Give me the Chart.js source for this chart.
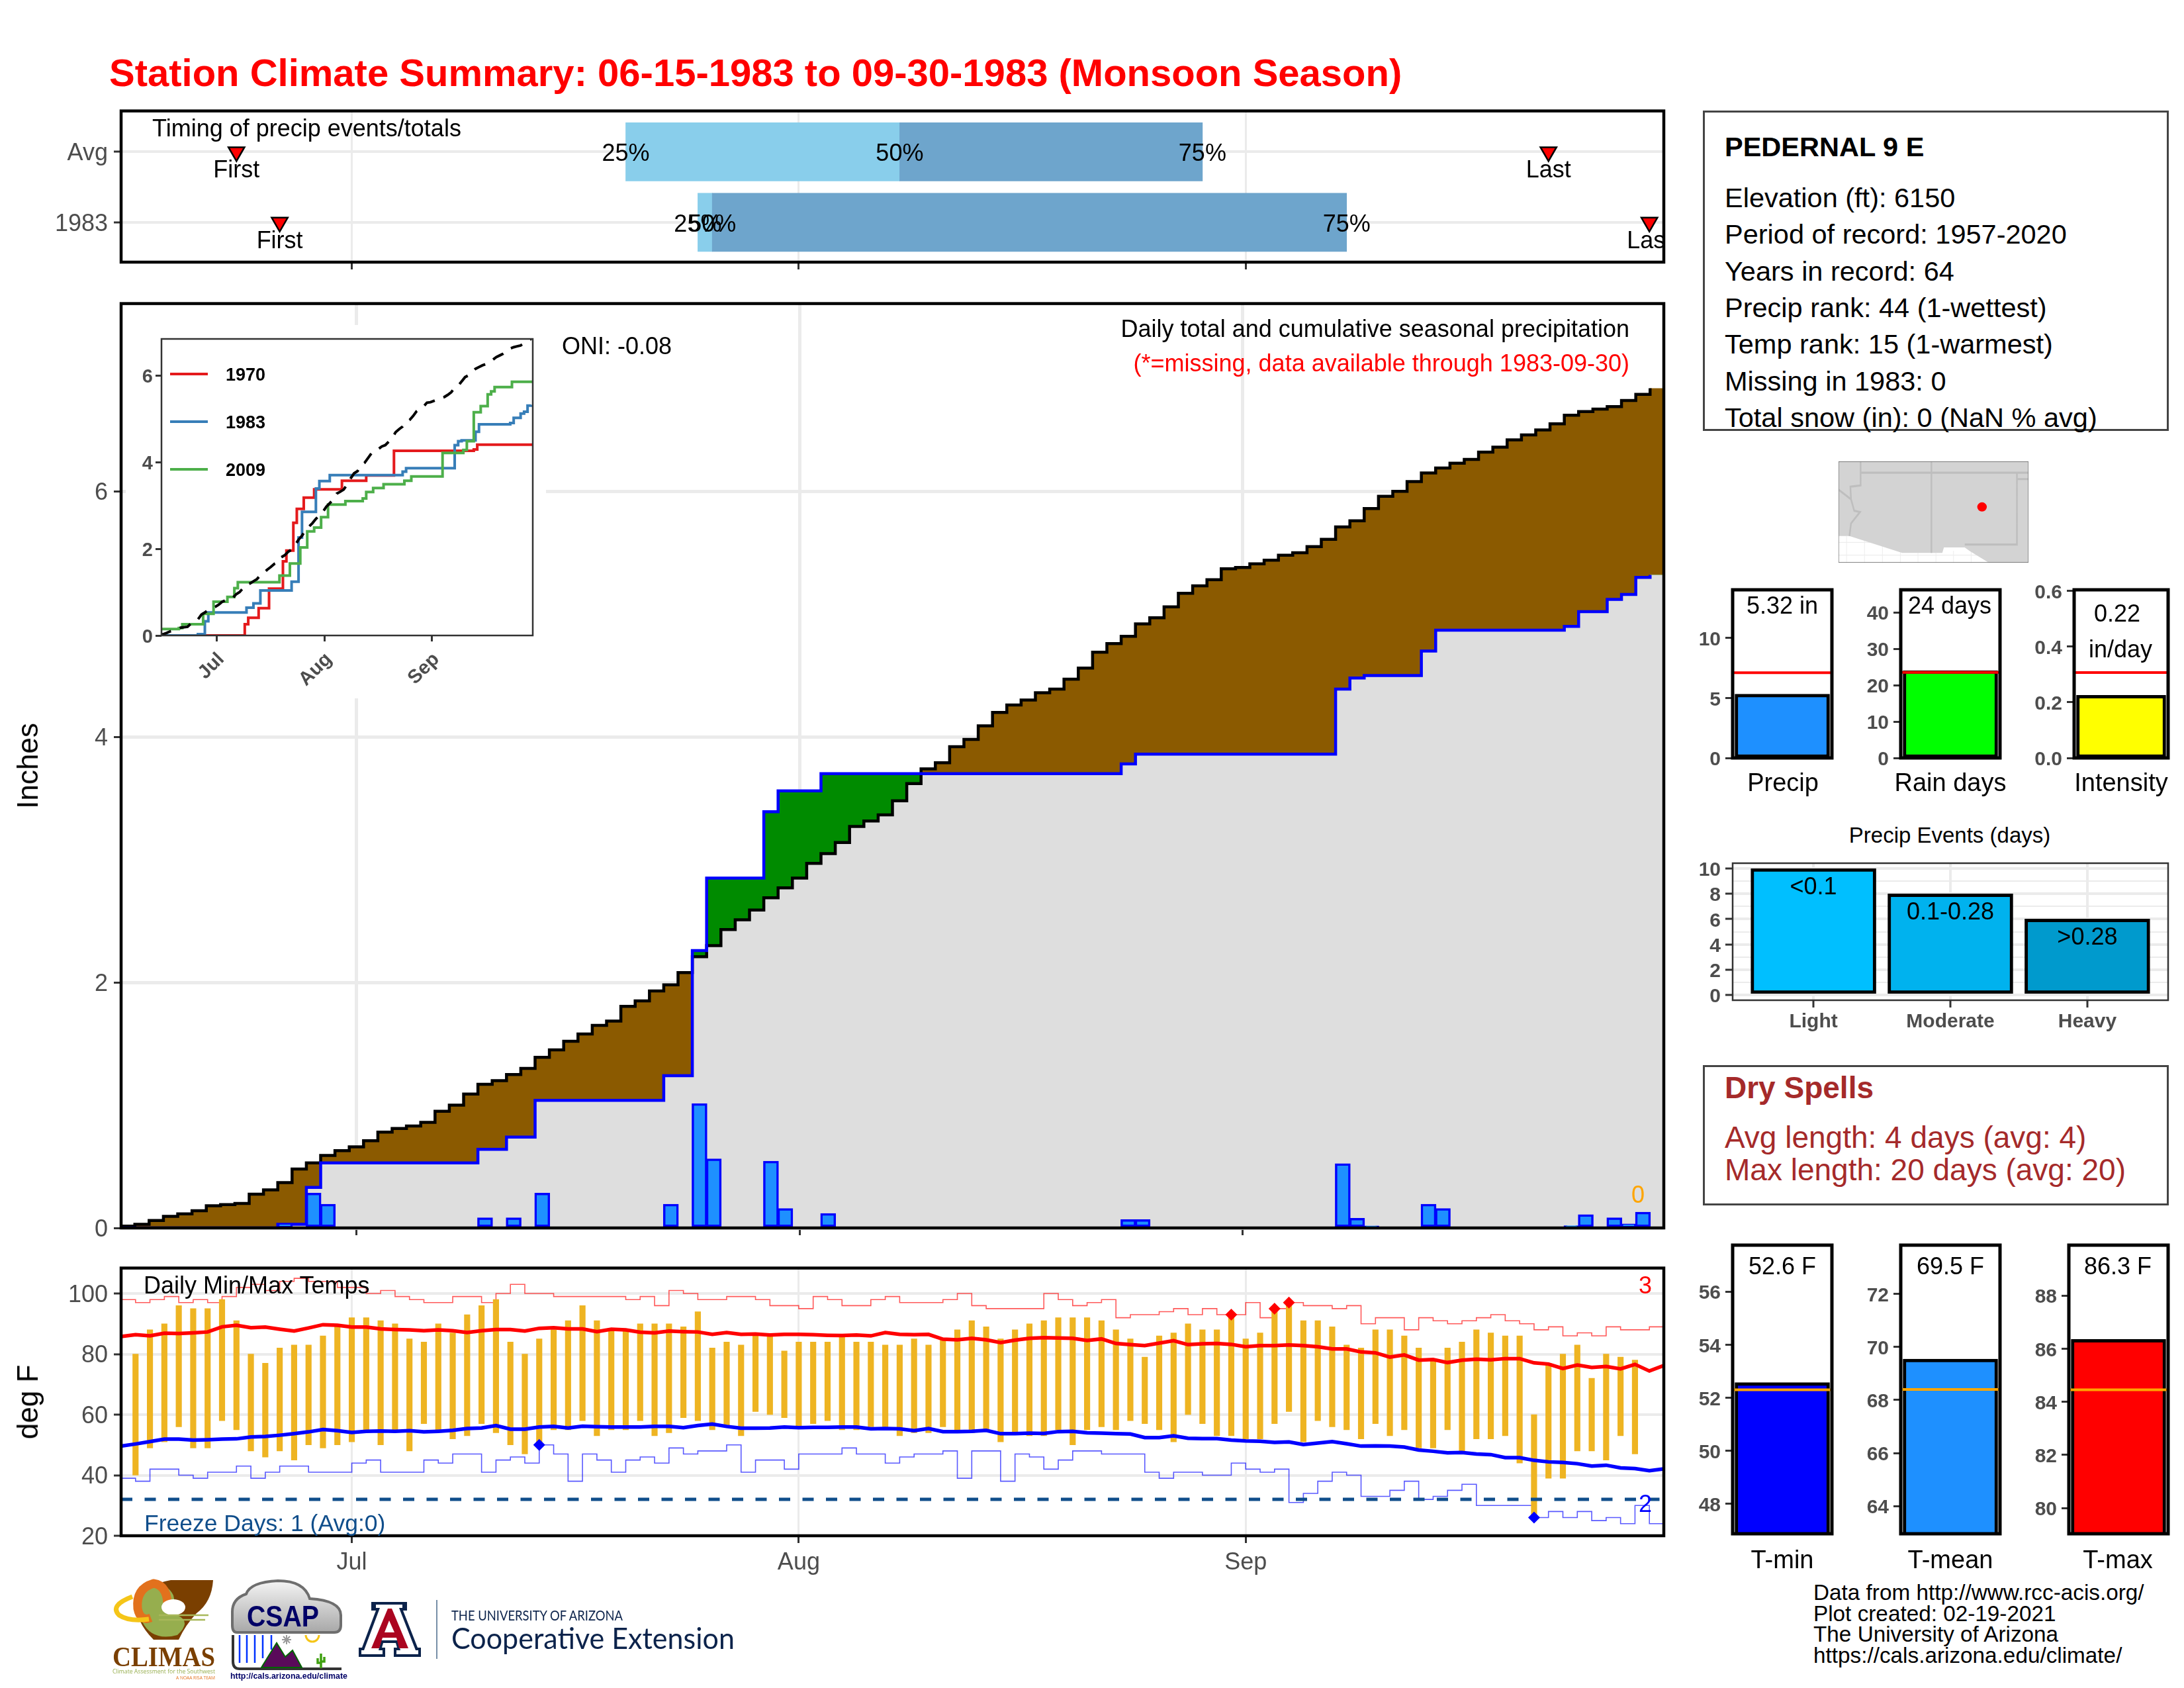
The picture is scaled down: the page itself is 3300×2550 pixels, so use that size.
<!DOCTYPE html>
<html>
<head>
<meta charset="utf-8">
<title>Station Climate Summary</title>
<script src="https://cdn.jsdelivr.net/npm/chart.js@4"></script>
<style>
  html, body { margin: 0; padding: 0; background: #fff; }
  #page { position: relative; width: 3300px; height: 2550px; overflow: hidden; font-family: 'Liberation Sans', sans-serif; }
  #page canvas { position: absolute; }
  .txt { position: absolute; white-space: nowrap; line-height: 1; }
  .box { position: absolute; box-sizing: border-box; background: #fff; }
  .clip { position: absolute; overflow: hidden; }
</style>
</head>
<body>
<div id="page"></div>
<script>
// Day numbers count from 06-15 = 0
const monthTicks = [16, 47, 78];
const monthLabels = ['Jul', 'Aug', 'Sep'];

// Timing panel
const timingRows = ['Avg', '1983'];
const timing25 = [35, 40];
const timing50 = [54, 41];
const timing75 = [75, 85];
const firstEvent = [8, 11];
const lastEvent = [99, 106];

// Daily precip (inches) on the days it rained
const rainDays = [11, 13, 14, 25, 27, 29, 38, 40, 41, 45, 46, 49, 70, 71, 85, 86, 87, 91, 92, 101, 102, 104, 105, 106];
const rainVals = [0.03, 0.28, 0.19, 0.08, 0.08, 0.28, 0.19, 1.01, 0.56, 0.54, 0.155, 0.115, 0.065, 0.065, 0.52, 0.075, 0.01, 0.19, 0.155, 0.015, 0.105, 0.08, 0.03, 0.125];

// Cumulative seasonal precip, one value per day
const cumAvg = [0.015, 0.03, 0.06, 0.095, 0.115, 0.14, 0.18, 0.19, 0.20, 0.275,
  0.31, 0.37, 0.48, 0.53, 0.59, 0.63, 0.66, 0.71, 0.78, 0.81,
  0.83, 0.86, 0.95, 1.00, 1.09, 1.17, 1.20, 1.25, 1.30, 1.39,
  1.45, 1.52, 1.58, 1.65, 1.685, 1.805, 1.85, 1.93, 1.98, 2.08,
  2.21, 2.30, 2.43, 2.51, 2.59, 2.69, 2.77, 2.85, 2.97, 3.05,
  3.14, 3.27, 3.315, 3.365, 3.48, 3.62, 3.74, 3.79, 3.92, 3.98,
  4.09, 4.20, 4.26, 4.30, 4.36, 4.39, 4.47, 4.56, 4.69, 4.76,
  4.82, 4.92, 4.97, 5.06, 5.17, 5.23, 5.28, 5.37, 5.38, 5.41,
  5.44, 5.48, 5.50, 5.55, 5.61, 5.71, 5.76, 5.86, 5.96, 6.00,
  6.08, 6.15, 6.19, 6.23, 6.26, 6.32, 6.36, 6.42, 6.46, 6.50,
  6.55, 6.62, 6.65, 6.67, 6.69, 6.74, 6.79, 6.84];
const cum1983 = [0, 0, 0, 0, 0, 0, 0, 0, 0, 0, 0, 0.03, 0.03, 0.33,
  0.53, 0.53, 0.53, 0.53, 0.53, 0.53, 0.53, 0.53, 0.53, 0.53, 0.53,
  0.64, 0.64, 0.74, 0.74,
  1.04, 1.04, 1.04, 1.04, 1.04, 1.04, 1.04, 1.04, 1.04,
  1.24, 1.24, 2.26, 2.85, 2.85, 2.85, 2.85, 3.39, 3.56, 3.56, 3.56,
  3.70, 3.70, 3.70, 3.70, 3.70, 3.70, 3.70, 3.70, 3.70, 3.70, 3.70,
  3.70, 3.70, 3.70, 3.70, 3.70, 3.70, 3.70, 3.70, 3.70, 3.70,
  3.78, 3.86, 3.86, 3.86, 3.86, 3.86, 3.86, 3.86, 3.86, 3.86, 3.86, 3.86, 3.86, 3.86, 3.86,
  4.39, 4.48, 4.50, 4.50, 4.50, 4.50, 4.70,
  4.87, 4.87, 4.87, 4.87, 4.87, 4.87, 4.87, 4.87, 4.87,
  4.90, 5.02, 5.02, 5.12, 5.16, 5.30, 5.32];

// Comparison years for the inset: day of each step and the level from that day on
const y1970Days = [0, 24, 25, 28, 31, 35, 36, 38, 39, 41, 44, 52, 59, 67, 90, 91, 107];
const y1970Vals = [0, 0.26, 0.41, 0.63, 1.08, 1.71, 1.96, 2.60, 2.92, 3.18, 3.37, 3.57, 3.69, 4.26, 4.29, 4.40, 4.40];
const y2009Days = [0, 5, 6, 12, 15, 19, 21, 22, 34, 37, 40, 42, 44, 46, 48, 53, 58, 59, 61, 64, 70, 72, 81, 87, 88, 90, 92, 94, 95, 96, 101, 107];
const y2009Vals = [0.15, 0.17, 0.26, 0.50, 0.78, 0.89, 1.09, 1.23, 1.38, 1.66, 2.03, 2.40, 2.49, 2.73, 3.02, 3.10, 3.16, 3.31, 3.40, 3.49, 3.57, 3.67, 4.21, 4.28, 4.48, 5.15, 5.29, 5.56, 5.63, 5.73, 5.85, 5.85];

// Daily temps (deg F), no reading on the first and last days
const tempMax = [null, 80, 88, 90, 96, 95, 95, 98, 91, 80, 77, 82, 83, 83, 86, 89, 92, 92, 91, 90, 85,
  84, 90, 87, 93, 96, 98, 84, 80, 85, 88, 91, 96, 91, 88, 88, 90, 90, 90, 89, 94,
  82, 84, 83, 86, 86, 81, 84, 84, 84, 86, 84, 84, 83, 83, 85, 83, 85, 88, 91, 89,
  85, 88, 90, 91, 92, 92, 92, 91, 88, 85, 79, 86, 87, 90, 88, 88, 93, 85, 87, 95,
  97, 91, 91, 89, 83, 82, 88, 88, 86, 82, 78, 82, 84, 88, 87, 86, 86, 60, 77, 80,
  83, 72, 80, 79, 78, null, null];
const tempMin = [null, 40, 49, 51, 56, 49, 49, 58, 55, 48, 46, 48, 45, 50, 49, 50, 51, 55, 50, 55, 48,
  57, 55, 52, 53, 57, 54, 50, 47, 50, 55, 55, 58, 53, 55, 55, 58, 53, 54, 59, 58,
  55, 56, 53, 61, 60, 59, 56, 57, 58, 55, 55, 56, 56, 53, 54, 54, 56, 55, 54, 55,
  51, 54, 53, 53, 55, 50, 55, 56, 55, 58, 57, 55, 51, 60, 57, 53, 53, 52, 52, 57,
  61, 51, 58, 56, 55, 52, 57, 53, 55, 49, 49, 55, 48, 52, 52, 53, 44, 26, 39, 39,
  48, 48, 45, 53, 47, null, null];
const normalHigh = [85.8, 86.4, 86.0, 86.9, 86.8, 87.0, 87.3, 89.0, 89.5, 88.7, 88.9, 88.2, 87.6, 88.6, 89.7, 89.5, 88.9, 88.9, 88.3, 88.1,
  88.0, 87.7, 88.0, 87.7, 87.1, 87.7, 88.1, 88.1, 87.6, 88.5, 88.7, 88.3, 88.3, 87.4, 88.2, 88.0, 87.2, 87.0, 87.6, 87.4,
  87.3, 86.5, 87.1, 86.5, 86.6, 86.3, 86.5, 86.5, 86.4, 86.2, 86.1, 86.3, 86.0, 87.1, 86.5, 86.4, 86.5, 84.9, 84.7, 85.2,
  84.7, 83.8, 84.6, 85.2, 85.4, 85.3, 85.2, 84.5, 85.0, 83.5, 83.1, 82.8, 83.6, 84.4, 83.1, 83.4, 83.5, 83.2, 82.4, 82.8,
  82.8, 83.0, 82.8, 82.4, 81.7, 81.7, 80.7, 80.4, 79.0, 79.7, 78.0, 78.2, 77.2, 78.0, 78.3, 78.1, 78.5, 78.5, 77.1, 76.7,
  75.2, 76.4, 75.6, 75.9, 75.1, 76.6, 74.4, 76.2];
const normalLow = [49.6, 50.3, 51.1, 51.9, 51.9, 51.6, 51.7, 51.9, 52.0, 52.6, 52.8, 53.2, 53.7, 54.3, 55.1, 54.7, 54.1, 54.5, 54.6, 54.5,
  54.7, 54.3, 54.5, 54.8, 55.4, 55.6, 56.4, 55.2, 55.2, 55.9, 56.1, 55.6, 56.2, 56.0, 55.9, 55.9, 55.9, 56.1, 56.1, 55.7,
  56.4, 56.9, 56.1, 55.5, 55.5, 55.6, 55.9, 55.7, 55.8, 55.8, 55.9, 55.9, 55.3, 55.4, 55.3, 54.7, 55.4, 54.4, 54.4, 54.5,
  54.8, 53.7, 53.7, 53.9, 53.8, 54.4, 54.5, 54.0, 53.9, 53.7, 53.6, 52.4, 52.4, 53.0, 52.2, 52.1, 52.1, 51.6, 51.3, 51.2,
  50.8, 51.0, 50.1, 50.6, 51.1, 50.4, 49.6, 49.7, 49.6, 49.3, 48.3, 47.9, 47.4, 47.5, 47.0, 46.8, 45.8, 45.8, 44.9, 44.4,
  44.2, 43.8, 43.0, 43.3, 42.4, 42.2, 41.5, 42.1];
const recordHigh = [98, 97, 98, 99, 97, 98, 97, 99, 102, 103, 101, 104, 105, 104, 104, 102, 102, 100, 101, 99,
  98, 97, 97, 99, 99, 97, 100, 103, 100, 100, 99, 99, 99, 99, 99, 98, 99, 96, 101, 100,
  98, 98, 99, 99, 98, 96, 96, 95, 99, 98, 96, 96, 98, 99, 97, 97, 97, 98, 100, 96,
  95, 95, 95, 95, 100, 98, 96, 97, 98, 92, 93, 93, 94, 95, 93, 95, 93, 93, 97, 92,
  95, 97, 96, 96, 95, 96, 90, 92, 92, 88, 92, 91, 90, 91, 92, 93, 91, 90, 88, 89,
  86, 87, 86, 89, 88, 88, 89, 89];
const recordLow = [39, 38, 42, 42, 40, 39, 41, 41, 43, 39, 41, 43, 43, 41, 41, 41, 44, 45, 41, 41,
  41, 45, 44, 47, 47, 41, 45, 46, 44, 50, 47, 38, 47, 45, 41, 45, 46, 44, 49, 47,
  48, 48, 50, 41, 45, 45, 42, 47, 47, 47, 49, 47, 47, 44, 46, 47, 47, 48, 39, 48,
  48, 38, 47, 46, 42, 45, 48, 48, 47, 47, 47, 41, 39, 41, 41, 40, 40, 44, 42, 41,
  42, 31, 34, 38, 41, 40, 33, 33, 35, 38, 32, 33, 35, 37, 30, 30, 30, 30, 26, 28,
  26, 28, 25, 26, 24, 30, 24, 24];
const newHighDays = [77, 80, 81];
const newHighVals = [93, 95, 97];
const newLowDays = [29, 98];
const newLowVals = [50, 26];
const freezeLine = 32;

// Precip events
const eventNames = ['Light', 'Moderate', 'Heavy'];
const eventCounts = [10, 8, 6];
const eventBins = ['<0.1', '0.1-0.28', '>0.28'];

const page = document.getElementById('page');
const FONT = "'Liberation Sans', sans-serif";
const GREY = '#4D4D4D';
const GRID = '#EBEBEB';

Chart.defaults.font.family = FONT;
Chart.defaults.animation = false;
Chart.defaults.responsive = false;
Chart.defaults.plugins.legend.display = false;
Chart.defaults.plugins.tooltip.enabled = false;
Chart.defaults.elements.point.radius = 0;
Chart.defaults.elements.line.tension = 0;

// Plain text, x/y is the anchor and y the vertical middle
function txt(str, x, y, o = {}) {
    const el = document.createElement('div');
    el.className = 'txt';
    el.textContent = str;
    el.style.left = x + 'px';
    el.style.top = y + 'px';
    el.style.fontSize = (o.size || 36) + 'px';
    el.style.color = o.color || '#000';
    if (o.bold) el.style.fontWeight = 'bold';
    const ax = o.align === 'left' ? '0' : o.align === 'right' ? '-100%' : '-50%';
    el.style.transform = `translate(${ax}, -50%)` + (o.rotate ? ` rotate(${o.rotate}deg)` : '');
    (o.parent || page).appendChild(el);
    return el;
}

function box(x0, y0, x1, y1, border) {
    const el = document.createElement('div');
    el.className = 'box';
    el.style.cssText = `left:${x0}px;top:${y0}px;width:${x1 - x0}px;height:${y1 - y0}px;border:${border || 'none'}`;
    page.appendChild(el);
    return el;
}

// Panel border on top of the marks, tick text nudged to sit level with the ticks
const framePlugin = {
    id: 'frame',
    beforeDraw(chart) {
        if (chart.$nudged) return;
        chart.$nudged = true;
        Object.values(chart.scales).forEach(s => {
            const shift = s.options.labelShift;
            if (shift) s.getLabelItems().forEach(item => { item.textOffset += shift; });
        });
    },
    afterDatasetsDraw(chart, args, opts) {
        const a = chart.chartArea;
        const c = chart.ctx;
        c.save();
        c.strokeStyle = opts.color || '#000';
        c.lineWidth = opts.width || 4.5;
        c.strokeRect(a.left, a.top, a.right - a.left, a.bottom - a.top);
        c.restore();
    }
};

// Linear axis with fixed ticks and fixed room for labels
function axis(o) {
    return {
        type: 'linear',
        offset: false,
        min: o.min,
        max: o.max,
        reverse: !!o.reverse,
        labelShift: o.shift === undefined ? 3 : o.shift,
        afterBuildTicks: a => { a.ticks = o.at.map(v => ({ value: v })); },
        afterFit: a => { if (a.isHorizontal()) a.height = o.room; else a.width = o.room; },
        border: { display: false },
        grid: {
            offset: false,
            drawOnChartArea: !!o.gridW,
            color: GRID,
            lineWidth: o.gridW || 1,
            tickColor: o.tickColor || '#333',
            tickWidth: o.tickW || 3,
            tickLength: o.tickLen || 11
        },
        ticks: {
            autoSkip: false,
            maxRotation: o.rot || 0,
            minRotation: o.rot || 0,
            padding: o.pad === undefined ? 9 : o.pad,
            color: GREY,
            font: { family: FONT, size: o.size || 36, weight: o.bold ? 'bold' : 'normal' },
            callback: (v, i) => (o.text ? o.text[i] : '')
        }
    };
}

// Canvas sized so the plot area lands exactly on the given rectangle
function panel(r, roomL, roomB, datasets, scales, frame) {
    const top = 30, right = 30;
    const cv = document.createElement('canvas');
    cv.width = r.x1 - r.x0 + roomL + right;
    cv.height = r.y1 - r.y0 + top + roomB;
    cv.style.left = (r.x0 - roomL) + 'px';
    cv.style.top = (r.y0 - top) + 'px';
    page.appendChild(cv);
    const noX = scales.x.display === false;
    return new Chart(cv, {
        type: 'bar',
        data: { datasets },
        options: {
            devicePixelRatio: 1,
            layout: { padding: { top, right, left: 0, bottom: noX ? roomB : 0 } },
            scales,
            plugins: { frame: frame || {} }
        },
        plugins: [framePlugin]
    });
}

function overlay(r) {
    const el = document.createElement('div');
    el.className = 'clip';
    el.style.cssText = `left:${r.x0}px;top:${r.y0}px;width:${r.x1 - r.x0}px;height:${r.y1 - r.y0}px`;
    page.appendChild(el);
    return el;
}

const halfDay = (vals) => vals.map((v, i) => ({ x: i - 0.5, y: v }));
const onDay = (vals) => vals.map((v, i) => ({ x: i, y: v }));
const pairs = (xs, ys) => xs.map((x, i) => ({ x, y: ys[i] }));
const lineDs = (data, color, width, extra) => Object.assign({ type: 'line', data, borderColor: color, borderWidth: width, fill: false }, extra);

// ---------- header ----------
txt('Station Climate Summary: 06-15-1983 to 09-30-1983 (Monsoon Season)', 165, 110, { size: 58, bold: true, color: '#FF0000', align: 'left' });

// ---------- timing panel ----------
const topRect = { x0: 183, y0: 167, x1: 2514, y1: 396 };
const timingChart = panel(topRect, 183, 40, [
    { type: 'scatter', data: firstEvent.map((d, i) => ({ x: d, y: i + 1 })).concat(lastEvent.map((d, i) => ({ x: d, y: i + 1 }))),
      pointStyle: 'triangle', rotation: 180, pointRadius: 14, backgroundColor: '#FF0000', borderColor: '#000', borderWidth: 2.5, order: 0 },
    { indexAxis: 'y', grouped: false, barThickness: 88, backgroundColor: '#89CEEB', order: 2,
      data: timingRows.map((n, i) => ({ y: i + 1, x: [timing25[i], timing50[i]] })) },
    { indexAxis: 'y', grouped: false, barThickness: 88, backgroundColor: '#6EA5CC', order: 1,
      data: timingRows.map((n, i) => ({ y: i + 1, x: [timing50[i], timing75[i]] })) }
], {
    x: axis({ min: 0, max: 107, at: monthTicks, room: 40, gridW: 3 }),
    y: axis({ min: 0.419, max: 2.565, reverse: true, at: [1, 2], text: timingRows, room: 183, gridW: 4 })
});
const topClip = overlay(topRect);
txt('Timing of precip events/totals', 230 - topRect.x0, 194 - topRect.y0, { align: 'left', parent: topClip });
timingRows.forEach((name, i) => {
    const yPx = timingChart.scales.y.getPixelForValue(i + 1) - 30;
    const xPx = d => timingChart.scales.x.getPixelForValue(d);
    const off = timingChart.canvas.offsetLeft - topRect.x0;
    [[timing25[i], '25%'], [timing50[i], '50%'], [timing75[i], '75%']].forEach(([d, s]) => {
        txt(s, xPx(d) + off, yPx + 2, { parent: topClip });
    });
    txt('First', xPx(firstEvent[i]) + off, yPx + 27, { parent: topClip });
    txt('Last', xPx(lastEvent[i]) + off, yPx + 27, { parent: topClip });
});

// ---------- cumulative precip panel ----------
const mainRect = { x0: 183, y0: 458, x1: 2514, y1: 1855 };
const topLine = cumAvg.map((v, i) => Math.min(v, cum1983[i]));
const lastDayEdge = 108;
const mainSets = [
    // fills run to the panel edge, strokes stop at the last day
    lineDs(halfDay(topLine).concat([{ x: lastDayEdge, y: topLine[107] }]), 'transparent', 0, { stepped: true, fill: 'origin', backgroundColor: '#DEDEDE', order: 9 }),
    lineDs(halfDay(cumAvg).concat([{ x: lastDayEdge, y: cumAvg[107] }]), 'transparent', 0, { stepped: true, fill: { target: 2, above: '#8B5A00', below: '#008B00' }, order: 8 }),
    lineDs(halfDay(cum1983).concat([{ x: lastDayEdge, y: cum1983[107] }]), 'transparent', 0, { stepped: true, order: 7 }),
    lineDs(halfDay(cumAvg), '#000', 4.5, { stepped: true, order: 3 }),
    lineDs(halfDay(cum1983), '#0000FF', 4.5, { stepped: true, order: 2 }),
    { data: pairs(rainDays, rainVals), backgroundColor: '#1E90FF', borderColor: '#0000FF', borderWidth: 3.5, borderSkipped: false, inflateAmount: 1, barThickness: 21.6, order: 1 }
];
panel(mainRect, 183, 40, mainSets, {
    x: axis({ min: -0.46, max: 107.46, at: monthTicks, room: 40, gridW: 5 }),
    y: axis({ min: 0, max: 7.53, at: [0, 2, 4, 6], text: ['0', '2', '4', '6'], room: 183, gridW: 5 })
});
txt('Inches', 42, 1157, { size: 44, rotate: -90 });
txt('ONI: -0.08', 849, 523, { align: 'left' });
txt('Daily total and cumulative seasonal precipitation', 2462, 497, { align: 'right' });
txt('(*=missing, data available through 1983-09-30)', 2462, 549, { align: 'right', color: '#FF0000' });
txt('0', 2475, 1805, { color: '#FFA500' });

// ---------- inset ----------
box(190, 491, 825, 1055);
const insetRect = { x0: 244, y0: 512, x1: 805, y1: 960 };
panel(insetRect, 60, 90, [
    lineDs(halfDay(cumAvg), '#000', 4, { borderDash: [18, 14], order: 0 }),
    lineDs(pairs(y2009Days, y2009Vals), '#4DAF4A', 4, { stepped: true, order: 1 }),
    lineDs(halfDay(cum1983), '#377EB8', 4, { stepped: true, order: 2 }),
    lineDs(pairs(y1970Days, y1970Vals), '#E41A1C', 4, { stepped: true, order: 3 })
], {
    x: axis({ min: 0, max: 107, at: monthTicks, text: monthLabels, room: 90, size: 29, bold: true, rot: 45, tickLen: 9, pad: 4, shift: 9 }),
    y: axis({ min: 0, max: 6.84, at: [0, 2, 4, 6], text: ['0', '2', '4', '6'], room: 60, size: 29, bold: true, tickLen: 9, pad: 4 })
}, { color: '#333', width: 2.5 });
[['1970', '#E41A1C', 565], ['1983', '#377EB8', 637], ['2009', '#4DAF4A', 709]].forEach(([label, col, y]) => {
    const swatch = box(257, y - 2, 314, y + 2);
    swatch.style.background = col;
    txt(label, 341, y + 1, { size: 27, bold: true, align: 'left' });
});

// ---------- daily temps ----------
const tempRect = { x0: 183, y0: 1915, x1: 2514, y1: 2320 };
const tempBars = tempMax.map((v, i) => ({ x: i, y: [tempMin[i], v] })).filter(p => p.y[1] !== null);
panel(tempRect, 183, 70, [
    lineDs([{ x: 0, y: freezeLine }, { x: 107, y: freezeLine }], '#104E8B', 5, { borderDash: [17, 18.5], order: 1 }),
    { type: 'scatter', data: pairs(newHighDays, newHighVals), pointStyle: 'rectRot', pointRadius: 9, backgroundColor: '#FF0000', borderWidth: 0, order: 0 },
    { type: 'scatter', data: pairs(newLowDays, newLowVals), pointStyle: 'rectRot', pointRadius: 9, backgroundColor: '#0000FF', borderWidth: 0, order: 0 },
    lineDs(onDay(normalHigh), '#FF0000', 5.5, { order: 2 }),
    lineDs(onDay(normalLow), '#0000FF', 5.5, { order: 2 }),
    lineDs(onDay(recordHigh), 'rgba(255,0,0,0.65)', 1.6, { stepped: true, order: 4 }),
    lineDs(onDay(recordLow), 'rgba(0,0,255,0.65)', 1.6, { stepped: true, order: 4 }),
    { data: tempBars, backgroundColor: '#EEB422', barThickness: 8.5, order: 3 }
], {
    x: axis({ min: 0, max: 107, at: monthTicks, text: monthLabels, room: 70, gridW: 3, pad: 8, shift: 0 }),
    y: axis({ min: 20, max: 108.4, at: [20, 40, 60, 80, 100], text: ['20', '40', '60', '80', '100'], room: 183, gridW: 4 })
});
txt('deg F', 42, 2118, { size: 44, rotate: -90 });
txt('Daily Min/Max Temps', 217, 1942, { align: 'left' });
txt('Freeze Days: 1 (Avg:0)', 218, 2302, { size: 35.5, align: 'left', color: '#104E8B' });
txt('3', 2486, 1942, { color: '#FF0000' });
txt('2', 2486, 2272, { color: '#0000FF' });

// ---------- station box ----------
box(2573, 167, 3277, 651, '3px solid #444');
const stationLines = ['Elevation (ft): 6150', 'Period of record: 1957-2020', 'Years in record: 64', 'Precip rank: 44 (1-wettest)', 'Temp rank: 15 (1-warmest)', 'Missing in 1983: 0', 'Total snow (in): 0 (NaN % avg)'];
txt('PEDERNAL 9 E', 2606, 222, { size: 41.5, bold: true, align: 'left' });
stationLines.forEach((s, i) => txt(s, 2606, 299 + i * 55.3, { size: 41.5, align: 'left' }));

// ---------- locator map, drawn by hand, not data ----------
function addSvg(x, y, w, h, viewBox, inner, aspect) {
    const wrap = document.createElement('div');
    wrap.style.cssText = `position:absolute;left:${x}px;top:${y}px;width:${w}px;height:${h}px`;
    wrap.innerHTML = `<svg xmlns="http://www.w3.org/2000/svg" width="${w}" height="${h}" viewBox="${viewBox}" preserveAspectRatio="${aspect || 'xMidYMid meet'}">${inner}</svg>`;
    page.appendChild(wrap);
}
addSvg(2778, 697, 287, 153, '491 58 593 240', `
  <rect x="491" y="58" width="593" height="240" fill="#fff"/>
  <path d="M491 250H700M491 280H960M516 235V298M572 240V298M628 255V298M684 265V298M739 275V298M795 275V298M850 270V298M905 270V298" stroke="#EDEDED" stroke-width="2" fill="none"/>
  <path d="M491 58H1084V298H960L900 270L885 262H820L815 275H690L525 235L491 235Z" fill="#D3D3D3"/>
  <path d="M560 58V115L528 118L530 148L540 175L558 178L530 205L525 235M491 125L530 148M560 85H1084M781 58V275M1048 85V255H885M1048 100H1084" stroke="#BEBEBE" stroke-width="5" fill="none"/>
  <ellipse cx="939" cy="166" rx="15" ry="11" fill="#FF0000"/>
  <rect x="491" y="58" width="593" height="240" fill="none" stroke="#666" stroke-width="2.5"/>`, 'none');

// ---------- small summary bars ----------
function miniBar(r, o) {
    return panel(r, 90, 30, [
        lineDs([{ x: 0, y: o.ref }, { x: 2, y: o.ref }], o.refColor, o.refW || 4, { order: 0 }),
        { data: [{ x: 1, y: o.value }], backgroundColor: o.color, borderColor: '#000', borderWidth: 5, borderSkipped: false, barThickness: r.x1 - r.x0 - 7, order: 1 }
    ], {
        x: { type: 'linear', offset: false, display: false, min: 0.4, max: 1.6 },
        y: axis({ min: o.min, max: o.max, at: o.at, text: o.at.map(o.fmt || String), room: 90, size: 30, bold: true, pad: 7 })
    }, { width: 5 });
}

miniBar({ x0: 2618, y0: 891, x1: 2768, y1: 1145 }, { min: 0, max: 14.02, at: [0, 5, 10], value: 5.32, ref: 7.1, color: '#1E90FF', refColor: '#FF0000' });
miniBar({ x0: 2872, y0: 891, x1: 3022, y1: 1145 }, { min: 0, max: 46.2, at: [0, 10, 20, 30, 40], value: 24, ref: 23.5, color: '#00FF00', refColor: '#FF0000' });
miniBar({ x0: 3134, y0: 891, x1: 3276, y1: 1145 }, { min: 0, max: 0.603, at: [0, 0.2, 0.4, 0.6], value: 0.225, ref: 0.306, color: '#FFFF00', refColor: '#FF0000', fmt: v => v.toFixed(1) });
txt('5.32 in', 2693, 915);
txt('24 days', 2946, 915);
txt('0.22', 3199, 927);
txt('in/day', 3204, 981);
txt('Precip', 2694, 1182, { size: 38 });
txt('Rain days', 2947, 1182, { size: 38 });
txt('Intensity', 3205, 1182, { size: 38 });

// ---------- precip events ----------
txt('Precip Events (days)', 2946, 1261, { size: 33 });
const eventRect = { x0: 2618, y0: 1304, x1: 3276, y1: 1511 };
const eventTicks = [0, 1, 2, 3, 4, 5, 6, 7, 8, 9, 10];
const eventY = axis({ min: -0.42, max: 10.42, at: eventTicks, room: 90, size: 30, bold: true, gridW: 4, pad: 7 });
eventY.ticks.callback = v => (v % 2 === 0 ? String(v) : '');
eventY.grid.lineWidth = c => (c.tick.value % 2 === 0 ? 4 : 2);
eventY.grid.tickColor = c => (c.tick.value % 2 === 0 ? '#333' : 'transparent');
const eventChart = panel(eventRect, 90, 60, [
    { data: eventCounts.map((v, i) => ({ x: i + 1, y: v })), backgroundColor: ['#00BFFF', '#00B2EE', '#009ACD'], borderColor: '#000', borderWidth: 5, borderSkipped: false, barThickness: 189 }
], {
    x: axis({ min: 0.41, max: 3.59, at: [1, 2, 3], text: eventNames, room: 60, size: 30, bold: true, gridW: 4, pad: 4, shift: 0 }),
    y: eventY
}, { color: '#333', width: 2.5 });
eventBins.forEach((s, i) => {
    const x = eventChart.scales.x.getPixelForValue(i + 1) + eventChart.canvas.offsetLeft;
    const y = eventChart.scales.y.getPixelForValue(eventCounts[i]) + eventChart.canvas.offsetTop;
    txt(s, x, y + 27);
});

// ---------- dry spells ----------
box(2573, 1609, 3277, 1821, '3px solid #444');
txt('Dry Spells', 2606, 1643, { size: 46, bold: true, color: '#A52A2A', align: 'left' });
txt('Avg length: 4 days (avg: 4)', 2606, 1718, { size: 46, color: '#A52A2A', align: 'left' });
txt('Max length: 20 days (avg: 20)', 2606, 1767, { size: 46, color: '#A52A2A', align: 'left' });

// ---------- temperature summary bars ----------
miniBar({ x0: 2618, y0: 1881, x1: 2768, y1: 2317 }, { min: 46.87, max: 57.75, at: [48, 50, 52, 54, 56], value: 52.57, ref: 52.3, color: '#0000FF', refColor: '#FFA500' });
miniBar({ x0: 2872, y0: 1881, x1: 3022, y1: 2317 }, { min: 62.95, max: 73.85, at: [64, 66, 68, 70, 72], value: 69.55, ref: 68.4, color: '#1E90FF', refColor: '#FFA500' });
miniBar({ x0: 3126, y0: 1881, x1: 3276, y1: 2317 }, { min: 79.03, max: 89.9, at: [80, 82, 84, 86, 88], value: 86.35, ref: 84.45, color: '#FF0000', refColor: '#FFA500' });
txt('52.6 F', 2693, 1913);
txt('69.5 F', 2947, 1913);
txt('86.3 F', 3200, 1913);
txt('T-min', 2693, 2356, { size: 38 });
txt('T-mean', 2947, 2356, { size: 38 });
txt('T-max', 3200, 2356, { size: 38 });

['Data from http://www.rcc-acis.org/', 'Plot created: 02-19-2021', 'The University of Arizona', 'https://cals.arizona.edu/climate/'].forEach((s, i) => {
    txt(s, 2740, 2406 + i * 31.5, { size: 33.3, align: 'left' });
});

// ---------- logos, hand drawn ----------
addSvg(150, 2380, 1000, 170, '150 2380 1000 170', `
  <defs><linearGradient id="cloud" x1="0" y1="0" x2="0" y2="1"><stop offset="0" stop-color="#F4F4F4"/><stop offset="1" stop-color="#A8A8A8"/></linearGradient></defs>
  <path d="M258 2387H322Q320 2420 297 2437Q280 2455 270 2477H232Q205 2450 205 2420Q215 2395 258 2387Z" fill="#7A3F00"/>
  <path d="M214 2395Q250 2385 262 2410L268 2440Q290 2450 268 2470Q230 2480 215 2450Q195 2420 214 2395Z" fill="#96AE4E"/>
  <path d="M253 2432Q255 2395 232 2392Q205 2400 208 2430Q212 2450 228 2444" fill="none" stroke="#E2711D" stroke-width="13"/>
  <ellipse cx="262" cy="2428" rx="18" ry="12" fill="#fff"/>
  <path d="M200 2412Q165 2425 180 2440Q195 2450 225 2446" fill="none" stroke="#F5C518" stroke-width="7"/>
  <path d="M240 2440H315M240 2447H310" stroke="#A8B85A" stroke-width="2.5"/>
  <text x="170" y="2517" font-family="'Liberation Serif', serif" font-weight="bold" font-size="42" fill="#7A3F00" textLength="155" lengthAdjust="spacingAndGlyphs">CLIMAS</text>
  <text x="170" y="2528" font-family="'Open Sans', sans-serif" font-size="9" fill="#96AE4E" textLength="155" lengthAdjust="spacingAndGlyphs">Climate Assessment for the Southwest</text>
  <text x="266" y="2537" font-family="'Open Sans', sans-serif" font-size="7" fill="#E2711D" textLength="59" lengthAdjust="spacingAndGlyphs">A NOAA RISA TEAM</text>
  <path d="M358 2466Q351 2466 351 2455V2435Q351 2415 372 2408Q378 2390 420 2388Q460 2388 468 2415Q515 2418 515 2440V2455Q515 2466 505 2466Z" fill="url(#cloud)" stroke="#6E6E6E" stroke-width="4"/>
  <text x="373" y="2457" font-family="'Liberation Sans', sans-serif" font-weight="bold" font-size="44" fill="#000066" textLength="109" lengthAdjust="spacingAndGlyphs">CSAP</text>
  <path d="M362 2470V2512M373 2470V2512M385 2470V2512M397 2470V2505M410 2470V2492" stroke="#0033FF" stroke-width="2.5"/>
  <path d="M352 2470V2510Q352 2521 362 2521H516" fill="none" stroke="#333" stroke-width="4"/>
  <path d="M395 2519L418 2482L431 2503L442 2493L456 2519Z" fill="#5A0A5A" stroke="#006400" stroke-width="2"/>
  <path d="M433 2470V2484M426 2477H440M428 2472L438 2482M438 2472L428 2482" stroke="#999" stroke-width="2"/>
  <path d="M462 2470A10 10 0 0 0 482 2470" fill="none" stroke="#F5C518" stroke-width="3"/>
  <path d="M485 2520V2498M485 2512H480V2505M485 2510H490V2503" fill="none" stroke="#3FA010" stroke-width="3.5"/>
  <text x="348" y="2536" font-family="'Liberation Sans', sans-serif" font-weight="bold" font-size="13" fill="#000066" textLength="177" lengthAdjust="spacingAndGlyphs">http://cals.arizona.edu/climate</text>
  <path d="M561 2420H615V2433H609L631 2489H636V2503H595V2489H600L598 2482H579L577 2489H582V2503H542V2489H547L568 2433H561Z" fill="#0C234B"/>
  <path d="M568 2424H608V2429H603L628 2493H632V2499H599V2493H605L601 2478H576L572 2493H578V2499H546V2493H550L574 2429H568Z" fill="#fff"/>
  <path d="M586 2430H592L617 2490H603L599 2474H578L573 2490H561ZM588 2448L581 2466H596Z" fill="#AB0520" fill-rule="evenodd"/>
  <path d="M660 2417V2506" stroke="#4A6A8A" stroke-width="1.5"/>
  <text x="682" y="2448" font-family="Lato, sans-serif" font-size="21" fill="#0C234B" textLength="259" lengthAdjust="spacingAndGlyphs">THE UNIVERSITY OF ARIZONA</text>
  <text x="682" y="2491" font-family="Lato, sans-serif" font-size="45" fill="#0C234B" textLength="428" lengthAdjust="spacingAndGlyphs">Cooperative Extension</text>`);
</script>
</body>
</html>
